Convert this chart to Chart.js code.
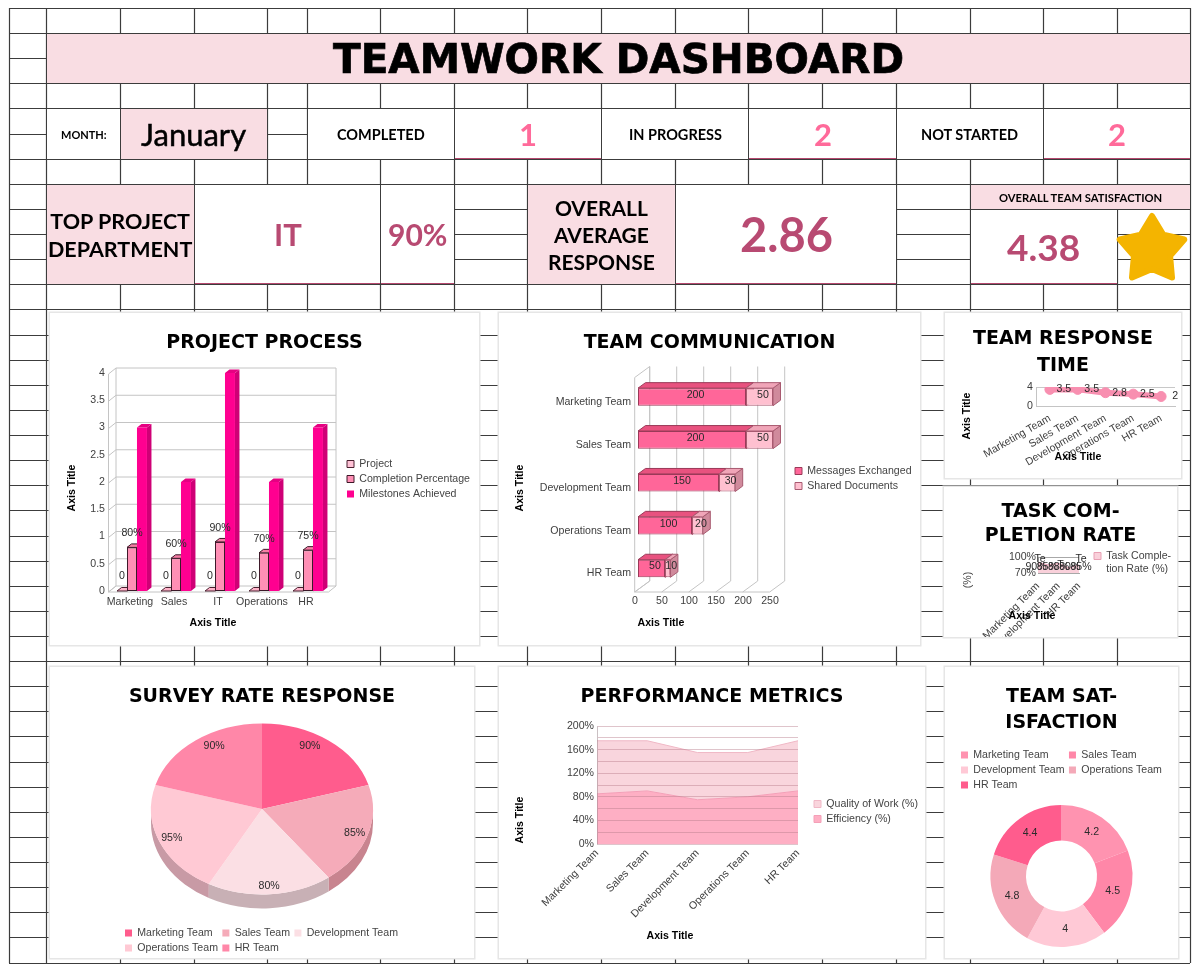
<!DOCTYPE html>
<html>
<head>
<meta charset="utf-8">
<title>Teamwork Dashboard</title>
<script src="https://cdn.jsdelivr.net/npm/chart.js@4/dist/chart.umd.js"></script>
<style>
  html, body { margin: 0; background: #fff; }
  #page { position: relative; width: 1200px; height: 971px; overflow: hidden; }
  #sheet, .star { position: absolute; left: 0; top: 0; }
  .cell {
    position: absolute; box-sizing: border-box; display: flex; align-items: center; justify-content: center;
    text-align: center; background: #fff; font-family: Lato, sans-serif; color: #000; font-weight: 700;
  }
  .cell > span { will-change: transform; }
  .pink { background: #f9dde3; }
  .main { font-family: "DejaVu Sans"; font-size: 40.5px; -webkit-text-stroke: .7px #000; }
  .under { border-bottom: 1.5px solid #b5486e; }
  .num { color: #ff6a9a; font-size: 31px; }
  .big { color: #b84a72; }
  .card { position: absolute; box-sizing: border-box; background: #fff; box-shadow: 0 0 0 1.5px #e6e6e6; }
  .card canvas { position: absolute; left: 0; top: 0; }
</style>
</head>
<body>
<div id="page">
  <canvas id="sheet" width="1200" height="971"></canvas>
</div>
<script>
// header figures
const monthName = 'January'
const completedCount = 1
const inProgressCount = 2
const notStartedCount = 2
const topDepartment = 'IT'
const topDepartmentRate = '90%'
const averageResponse = 2.86
const overallSatisfaction = 4.38

// project process
const departments = ['Marketing', 'Sales', 'IT', 'Operations', 'HR']
const projectFlags = [0, 0, 0, 0, 0]
const completionShare = [0.8, 0.6, 0.9, 0.7, 0.75]
const milestones = [3, 2, 4, 2, 3]

// team series
const teams = ['Marketing Team', 'Sales Team', 'Development Team', 'Operations Team', 'HR Team']
const messages = [200, 200, 150, 100, 50]
const sharedDocs = [50, 50, 30, 20, 10]
const responseTime = [3.5, 3.5, 2.8, 2.5, 2]
const taskCompletion = [90, 85, 88, 80, 85]
const taskStubs = ['Te', '', 'T', '', 'Te']
const surveyRate = [90, 85, 80, 95, 90]
const efficiency = [85, 90, 75, 80, 90]
const quality = [90, 85, 80, 75, 85]
const satisfaction = [4.2, 4.5, 4, 4.8, 4.4]

const pieColors = ['#ff5c8d', '#f5abb9', '#fbdfe4', '#ffc9d4', '#ff87a8']
const pieWalls = ['#c2436a', '#c8848f', '#c8b0b5', '#c89aa5', '#c8688a']
const ringColors = ['#ff93b0', '#ff87a8', '#ffc9d6', '#f4a9b8', '#ff5c8d']

const labelFont = '10.6px "Liberation Sans"'
const axisFont = 'bold 10.6px "Liberation Sans"'

// spreadsheet grid behind everything
const sheetCols = [9, 46, 120, 194, 267, 307, 380, 454, 527, 601, 675, 748, 822, 896, 970, 1043, 1117, 1190]
const sheet = document.getElementById('sheet').getContext('2d')
sheet.strokeStyle = '#3c3c3c'
sheet.lineWidth = 1.2
sheet.beginPath()
for (let i = 0; i <= 38; i++) {
    let y = Math.round(8 + i * 25.12) + 0.5
    sheet.moveTo(9, y)
    sheet.lineTo(1190, y)
}
for (let x of sheetCols) {
    sheet.moveTo(x + 0.5, 8)
    sheet.lineTo(x + 0.5, 963)
}
sheet.stroke()

const page = document.getElementById('page')

function cell(x0, y0, x1, y1, cls, text, size) {
    let d = document.createElement('div')
    d.className = 'cell ' + cls
    d.style.cssText = `left:${x0 + 1}px;top:${y0 + 1}px;width:${x1 - x0 - 1}px;height:${y1 - y0 - 1}px;`
    if (size) d.style.fontSize = size + 'px'
    d.innerHTML = `<span>${text}</span>`
    page.appendChild(d)
}

cell(46, 33, 1190, 83, 'pink main', 'TEAMWORK DASHBOARD')

cell(46, 108, 120, 159, '', 'MONTH:', 11)
cell(120, 108, 267, 159, 'pink', `<span style="font-weight:400;-webkit-text-stroke:.5px #000">${monthName}</span>`, 31)
cell(307, 108, 454, 159, '', 'COMPLETED', 14.5)
cell(454, 108, 601, 159, 'under num', completedCount)
cell(601, 108, 748, 159, '', 'IN PROGRESS', 14.5)
cell(748, 108, 896, 159, 'under num', inProgressCount)
cell(896, 108, 1043, 159, '', 'NOT STARTED', 14.5)
cell(1043, 108, 1190, 159, 'under num', notStartedCount)

cell(46, 184, 194, 284, 'pink', '<div style="line-height:28px">TOP PROJECT<br>DEPARTMENT</div>', 21.5)
cell(194, 184, 380, 284, 'under big', topDepartment, 31)
cell(380, 184, 454, 284, 'under big', topDepartmentRate, 30)
cell(527, 184, 675, 284, 'pink', '<div style="line-height:27px">OVERALL<br>AVERAGE<br>RESPONSE</div>', 21)
cell(675, 184, 896, 284, 'under big', averageResponse, 47)
cell(970, 184, 1190, 209, 'pink', 'OVERALL TEAM SATISFACTION', 11.2)
cell(970, 209, 1117, 284, 'under big', overallSatisfaction, 37)

// star badge next to the satisfaction score
let starPts = []
for (let i = 0; i < 10; i++) {
    let r = i % 2 ? 19 : 34
    let a = -Math.PI / 2 + i * Math.PI / 5
    starPts.push((1152 + r * Math.cos(a)).toFixed(1) + ',' + (250 + r * Math.sin(a)).toFixed(1))
}
page.insertAdjacentHTML('beforeend', `<svg class="star" width="1200" height="971"><polygon points="${starPts.join(' ')}" fill="#f4b400" stroke="#f4b400" stroke-width="6" stroke-linejoin="round"/></svg>`)

// legend placed by hand: it takes no room in the layout, columns wrap after `rows` items
Chart.register({
    id: 'legendPin',
    beforeLayout(chart, args, opts) {
        let lg = chart.legend
        if (!lg || !opts.rows || lg.pinned) return
        lg.pinned = true
        let fit = lg.fit
        lg.fit = function () {
            let p = this.options.labels.padding
            let h = this.options.labels.font.size
            this.maxHeight = opts.rows * (h + p) + p + 0.5
            this.maxWidth = 1000
            fit.call(this)
            this.pinH = this.maxHeight
            this.pinW = this.width
            this.width = 0
            this.height = 0
        }
    },
    afterLayout(chart, args, opts) {
        let lg = chart.legend
        if (!lg || !opts.rows) return
        let p = lg.options.labels.padding
        let h = lg.options.labels.font.size
        lg.left = opts.x - p
        lg.right = lg.left + lg.pinW
        lg.top = opts.y - h / 2 - p
        lg.bottom = lg.top + Math.max(lg.pinH, opts.clipH || 0)
    }
})

// titles stay centred on the whole canvas whatever the right padding is
Chart.register({
    id: 'titleSpan',
    afterLayout(chart) {
        if (!chart.titleBlock) return
        chart.titleBlock.left = 0
        chart.titleBlock.right = chart.width
    }
})

// free standing axis captions
Chart.register({
    id: 'axisNotes',
    afterDraw(chart, args, opts) {
        for (let n of opts.items || []) {
            let ctx = chart.ctx
            ctx.save()
            ctx.translate(n.x, n.y)
            ctx.rotate(n.rot || 0)
            ctx.font = n.font || axisFont
            ctx.fillStyle = n.color || '#000'
            ctx.textAlign = 'center'
            ctx.textBaseline = 'middle'
            ctx.fillText(n.text, 0, 0)
            ctx.restore()
        }
    }
})

function putText(ctx, text, x, y) {
    ctx.font = labelFont
    ctx.fillStyle = '#2b2b2b'
    ctx.textAlign = 'center'
    ctx.textBaseline = 'middle'
    ctx.fillText(text, x, y)
}

function face(ctx, pts, fill, stroke) {
    ctx.beginPath()
    pts.forEach((p, i) => i ? ctx.lineTo(p[0], p[1]) : ctx.moveTo(p[0], p[1]))
    ctx.closePath()
    ctx.fillStyle = fill
    ctx.fill()
    if (stroke) {
        ctx.strokeStyle = stroke
        ctx.lineWidth = 1
        ctx.stroke()
    }
}

// walls and floor of a box chart, plus extruded bar faces, all under the bar fronts
const boxChart = {
    id: 'boxChart',
    beforeDatasetsDraw(chart, args, opts) {
        let ctx = chart.ctx
        let { left: l, right: r, top: t, bottom: b } = chart.chartArea
        let [fx, fy] = opts.front
        let [bx, by] = opts.back
        let seg = (x0, y0, x1, y1) => { ctx.moveTo(x0, y0); ctx.lineTo(x1, y1) }
        ctx.save()
        ctx.strokeStyle = '#c4c4c4'
        ctx.lineWidth = 1
        ctx.beginPath()
        seg(l + fx, t + fy, l + fx, b + fy)
        seg(l + bx, t + by, l + bx, b + by)
        seg(l + fx, b + fy, r + fx, b + fy)
        seg(l + fx, b + fy, l + bx, b + by)
        if (opts.valueAxis == 'y') {
            let sc = chart.scales.y
            seg(r + bx, t + by, r + bx, b + by)
            seg(r + fx, b + fy, r + bx, b + by)
            for (let tick of sc.ticks) {
                let y = sc.getPixelForValue(tick.value)
                seg(l + fx, y + fy, l + bx, y + by)
                seg(l + bx, y + by, r + bx, y + by)
            }
        } else {
            let sc = chart.scales.x
            seg(l + fx, t + fy, l + bx, t + by)
            for (let tick of sc.ticks) {
                let x = sc.getPixelForValue(tick.value)
                seg(x + fx, b + fy, x + bx, b + by)
                seg(x + bx, t + by, x + bx, b + by)
            }
        }
        ctx.stroke()

        let [dx, dy] = opts.depth
        chart.data.datasets.forEach((ds, i) => {
            for (let el of chart.getDatasetMeta(i).data) {
                let stroke = ds.borderWidth ? ds.borderColor : null
                if (opts.valueAxis == 'y') {
                    let x0 = el.x - el.width / 2, x1 = el.x + el.width / 2
                    face(ctx, [[x1, el.y], [x1 + dx, el.y - dy], [x1 + dx, el.base - dy], [x1, el.base]], ds.sideColor, stroke)
                    face(ctx, [[x0, el.y], [x0 + dx, el.y - dy], [x1 + dx, el.y - dy], [x1, el.y]], ds.topColor, stroke)
                } else {
                    let y0 = el.y - el.height / 2, y1 = el.y + el.height / 2
                    face(ctx, [[el.x, y0], [el.x + dx, y0 - dy], [el.x + dx, y1 - dy], [el.x, y1]], ds.sideColor, stroke)
                    face(ctx, [[el.base, y0], [el.base + dx, y0 - dy], [el.x + dx, y0 - dy], [el.x, y0]], ds.topColor, stroke)
                }
            }
        })
        ctx.restore()
    }
}

// builds a card and the shared options; plot and title are given in page pixels
function makeCard(card) {
    let d = document.createElement('div')
    d.className = 'card'
    d.style.cssText = `left:${card.x0}px;top:${card.y0}px;width:${card.x1 - card.x0}px;height:${card.y1 - card.y0}px;`
    let c = document.createElement('canvas')
    c.width = card.x1 - card.x0
    c.height = card.y1 - card.y0
    d.appendChild(c)
    page.appendChild(d)
    return c
}

function titleOpts(card, plot, text, firstY, gap) {
    let top = firstY - card.y0 - gap / 2
    return {
        display: true,
        text: text,
        color: '#000',
        font: { family: 'DejaVu Sans', weight: 'bold', size: 19, lineHeight: gap / 19 },
        padding: { top: top, bottom: plot.y0 - card.y0 - top - text.length * gap }
    }
}

function legendOpts(extra) {
    return Object.assign({
        position: 'right',
        align: 'start',
        labels: { boxWidth: 7, boxHeight: 7, padding: 4.4, color: '#444', font: { size: 10.6 } }
    }, extra)
}

function note(card, text, x, y, rot, font, color) {
    return { text, x: x - card.x0, y: y - card.y0, rot: rot ? -Math.PI / 2 : 0, font, color }
}

Chart.defaults.font.family = '"Liberation Sans"'
Chart.defaults.font.size = 10.6
Chart.defaults.color = '#404040'
Chart.defaults.animation = false
Chart.defaults.responsive = false
Chart.defaults.plugins.tooltip.enabled = false

const tickStyle = { color: '#404040', font: { size: 10.6 } }
const hide = { display: false, drawTicks: false }

// PROJECT PROCESS
{
    let card = { x0: 50, y0: 313, x1: 479, y1: 645 }
    let plot = { x0: 110, y0: 373, x1: 330, y1: 591 }
    new Chart(makeCard(card), {
        type: 'bar',
        data: {
            labels: departments,
            datasets: [
                { label: 'Project', data: projectFlags, backgroundColor: '#ffc2d6', topColor: '#ffb3c9', sideColor: '#d890a8', borderColor: '#4a2030', borderWidth: 1, borderSkipped: false },
                { label: 'Completion Percentage', data: completionShare, backgroundColor: '#ff8fb5', topColor: '#f47ea4', sideColor: '#c9688c', borderColor: '#3c1828', borderWidth: 1, borderSkipped: false },
                { label: 'Milestones Achieved', data: milestones, backgroundColor: '#ff0090', topColor: '#e60082', sideColor: '#cf0076', borderWidth: 0 }
            ]
        },
        options: {
            layout: { padding: { right: card.x1 - plot.x1 } },
            datasets: { bar: { categoryPercentage: 0.68, barPercentage: 1 } },
            scales: {
                x: {
                    afterFit: a => { a.height = card.y1 - plot.y1 },
                    grid: hide, border: hide,
                    ticks: Object.assign({ padding: 5, labelOffset: -2, minRotation: 0, maxRotation: 0, autoSkip: false }, tickStyle)
                },
                y: {
                    min: 0, max: 4,
                    afterFit: a => { a.width = plot.x0 - card.x0 },
                    grid: hide, border: hide,
                    ticks: Object.assign({ stepSize: 0.5, padding: 5, callback: v => v }, tickStyle)
                }
            },
            plugins: {
                title: titleOpts(card, plot, ['PROJECT PROCESS'], 343, 23),
                legend: legendOpts({}),
                legendPin: { x: 347 - card.x0, y: 464 - card.y0, rows: 3 },
                boxChart: { front: [-1.5, 1], back: [6, -5], depth: [4.5, 3.5], valueAxis: 'y' },
                axisNotes: { items: [note(card, 'Axis Title', 213, 623), note(card, 'Axis Title', 72, 488, true)] }
            }
        },
        plugins: [boxChart, {
            id: 'processLabels',
            afterDatasetsDraw(chart) {
                chart.getDatasetMeta(0).data.forEach((el, i) => putText(chart.ctx, projectFlags[i], el.x, el.y - 15))
                chart.getDatasetMeta(1).data.forEach((el, i) => putText(chart.ctx, Math.round(completionShare[i] * 100) + '%', el.x, el.y - 14))
            }
        }]
    })
}

// TEAM COMMUNICATION
{
    let card = { x0: 499, y0: 313, x1: 920, y1: 645 }
    let plot = { x0: 638, y0: 375.5, x1: 773, y1: 590 }
    new Chart(makeCard(card), {
        type: 'bar',
        data: {
            labels: teams,
            datasets: [
                { label: 'Messages Exchanged', data: messages, backgroundColor: '#ff6699', topColor: '#e8527f', sideColor: '#c94a72', borderColor: '#9a3a58', borderWidth: 1, borderSkipped: false },
                { label: 'Shared Documents', data: sharedDocs, backgroundColor: '#ffc0d0', topColor: '#f0a5b8', sideColor: '#d08a9c', borderColor: '#a85a70', borderWidth: 1, borderSkipped: false }
            ]
        },
        options: {
            indexAxis: 'y',
            layout: { padding: { right: card.x1 - plot.x1 } },
            datasets: { bar: { categoryPercentage: 0.41, barPercentage: 1 } },
            scales: {
                x: {
                    stacked: true, min: 0, max: 250,
                    afterFit: a => { a.height = card.y1 - plot.y1 },
                    grid: hide, border: hide,
                    ticks: Object.assign({ stepSize: 50, padding: 5, labelOffset: -3 }, tickStyle)
                },
                y: {
                    stacked: true,
                    afterFit: a => { a.width = plot.x0 - card.x0 },
                    grid: hide, border: hide,
                    ticks: Object.assign({ padding: 7, labelOffset: 5 }, tickStyle)
                }
            },
            plugins: {
                title: titleOpts(card, plot, ['TEAM COMMUNICATION'], 343, 23),
                legend: legendOpts({}),
                legendPin: { x: 795 - card.x0, y: 471 - card.y0, rows: 2 },
                boxChart: { front: [-3.3, 2], back: [11.7, -9], depth: [7.5, 5.5], valueAxis: 'x' },
                axisNotes: { items: [note(card, 'Axis Title', 661, 623), note(card, 'Axis Title', 520.5, 488, true)] }
            }
        },
        plugins: [boxChart, {
            id: 'commLabels',
            afterDatasetsDraw(chart) {
                chart.data.datasets.forEach((ds, d) => {
                    chart.getDatasetMeta(d).data.forEach((el, i) => {
                        putText(chart.ctx, ds.data[i], (el.x + el.base) / 2 + 3.5, el.y - 2)
                    })
                })
            }
        }]
    })
}

// TEAM RESPONSE TIME
{
    let card = { x0: 945, y0: 313, x1: 1181, y1: 478 }
    let plot = { x0: 1036, y0: 387, x1: 1176, y1: 406 }
    new Chart(makeCard(card), {
        type: 'line',
        data: {
            labels: teams,
            datasets: [{
                label: 'Response Time', data: responseTime, borderColor: '#f88fb0', backgroundColor: '#f88fb0',
                borderWidth: 6, pointRadius: 5, pointBorderWidth: 1, tension: 0
            }]
        },
        options: {
            layout: { padding: { right: card.x1 - plot.x1 } },
            scales: {
                x: {
                    offset: true,
                    afterFit: a => { a.height = card.y1 - plot.y1 },
                    grid: hide, border: { color: '#c4c4c4' },
                    ticks: Object.assign({ autoSkip: false, minRotation: 30, maxRotation: 30, padding: 6 }, tickStyle)
                },
                y: {
                    min: 0, max: 4,
                    afterFit: a => { a.width = plot.x0 - card.x0 },
                    grid: { color: '#c8c8c8', drawTicks: false }, border: { color: '#c4c4c4' },
                    ticks: Object.assign({ stepSize: 2, padding: 3, callback: v => v == 2 ? '' : v }, tickStyle)
                }
            },
            plugins: {
                title: titleOpts(card, plot, ['TEAM RESPONSE', 'TIME'], 339, 27),
                legend: hide,
                axisNotes: { items: [note(card, 'Axis Title', 1078, 457), note(card, 'Axis Title', 967, 416, true)] }
            }
        },
        plugins: [{
            id: 'responseLabels',
            afterDatasetsDraw(chart) {
                chart.getDatasetMeta(0).data.forEach((el, i) => putText(chart.ctx, responseTime[i], el.x + 14, el.y))
            }
        }]
    })
}

// TASK COMPLETION RATE
{
    let card = { x0: 944, y0: 487, x1: 1177, y1: 637 }
    let plot = { x0: 1038, y0: 557, x1: 1079, y1: 573 }
    new Chart(makeCard(card), {
        type: 'line',
        data: {
            labels: teams,
            datasets: [{
                label: ['Task Comple-', 'tion Rate (%)'], data: taskCompletion, fill: 'origin',
                backgroundColor: '#f9d0da', borderColor: '#e8a0b4', borderWidth: 1, pointRadius: 0, tension: 0
            }]
        },
        options: {
            layout: { padding: { right: card.x1 - plot.x1 } },
            scales: {
                x: {
                    afterFit: a => { a.height = card.y1 - plot.y1 },
                    grid: hide, border: { color: '#a8a8a8' },
                    ticks: Object.assign({
                        autoSkip: false, minRotation: 45, maxRotation: 45, padding: 7,
                        callback(v, i) { return i % 2 ? '' : this.getLabelForValue(v) }
                    }, tickStyle)
                },
                y: {
                    min: 70, max: 100,
                    afterFit: a => { a.width = plot.x0 - card.x0 },
                    grid: { color: '#a8a8a8', drawTicks: false }, border: { color: '#a8a8a8' },
                    ticks: Object.assign({ stepSize: 30, padding: 2, callback: v => v + '%' }, tickStyle)
                }
            },
            plugins: {
                title: titleOpts(card, plot, ['TASK COM-', 'PLETION RATE'], 512, 24.5),
                legend: legendOpts({}),
                legendPin: { x: 1094 - card.x0, y: 556 - card.y0, rows: 1, clipH: 30 },
                axisNotes: {
                    items: [
                        note(card, 'Axis Title', 1032, 616),
                        note(card, '(%)', 968, 580, true, labelFont, '#444')
                    ]
                }
            }
        },
        plugins: [{
            id: 'taskLabels',
            afterDatasetsDraw(chart) {
                let mid = chart.chartArea.top + 10
                chart.getDatasetMeta(0).data.forEach((el, i) => {
                    putText(chart.ctx, taskCompletion[i] + '%', el.x + (i - 2) * 1, mid)
                    putText(chart.ctx, taskStubs[i], el.x + 2, chart.chartArea.top + (i == 2 ? 8 : 2))
                })
            }
        }]
    })
}

// SURVEY RATE RESPONSE, a tilted pie
{
    let card = { x0: 50, y0: 667, x1: 474, y1: 958 }
    let plot = { x0: 50, y0: 721, x1: 474, y1: 897 }
    let tilt = 0.77
    let wall = 14
    let legendRows = [0, 3, 1, 4, 2]
    new Chart(makeCard(card), {
        type: 'pie',
        data: {
            labels: teams,
            datasets: [{ data: surveyRate, backgroundColor: pieColors, borderWidth: 0, clip: false }]
        },
        options: {
            radius: 111,
            layout: { padding: { bottom: card.y1 - plot.y1 } },
            plugins: {
                title: titleOpts(card, plot, ['SURVEY RATE RESPONSE'], 697, 23),
                legend: legendOpts({
                    labels: Object.assign(legendOpts({}).labels, { sort: (a, b) => legendRows.indexOf(a.index) - legendRows.indexOf(b.index) })
                }),
                legendPin: { x: 125 - card.x0, y: 933 - card.y0, rows: 2 }
            }
        },
        plugins: [{
            id: 'pieTilt',
            beforeDatasetsDraw(chart) {
                let ctx = chart.ctx
                let arcs = chart.getDatasetMeta(0).data
                let { x: cx, y: cy, outerRadius: rx } = arcs[0]
                let ry = rx * tilt
                arcs.forEach((a, i) => {
                    let s = Math.max(a.startAngle, 0)
                    let e = Math.min(a.endAngle, Math.PI)
                    if (s >= e) return
                    ctx.beginPath()
                    ctx.ellipse(cx, cy, rx, ry, 0, s, e)
                    ctx.ellipse(cx, cy + wall, rx, ry, 0, e, s, true)
                    ctx.closePath()
                    ctx.fillStyle = pieWalls[i]
                    ctx.fill()
                })
                ctx.save()
                ctx.translate(cx, cy)
                ctx.scale(1, tilt)
                ctx.translate(-cx, -cy)
            },
            afterDatasetsDraw(chart) {
                let ctx = chart.ctx
                ctx.restore()
                let reach = [0.72, 0.88, 0.9, 0.88, 0.72]
                let lift = [-14, 0, 0, 0, -14]
                chart.getDatasetMeta(0).data.forEach((a, i) => {
                    let mid = (a.startAngle + a.endAngle) / 2
                    let r = a.outerRadius * reach[i]
                    putText(ctx, surveyRate[i] + '%', a.x + r * Math.cos(mid), a.y + r * Math.sin(mid) * tilt + lift[i])
                })
            }
        }]
    })
}

// PERFORMANCE METRICS, stacked areas
{
    let card = { x0: 499, y0: 667, x1: 925, y1: 958 }
    let plot = { x0: 597, y0: 726, x1: 798, y1: 844 }
    new Chart(makeCard(card), {
        type: 'line',
        data: {
            labels: teams,
            datasets: [
                { label: 'Efficiency (%)', data: efficiency, fill: 'origin', backgroundColor: '#feafc4', borderColor: '#f4a0b8', borderWidth: 1, pointRadius: 0, tension: 0 },
                { label: 'Quality of Work (%)', data: quality, fill: '-1', backgroundColor: '#f9d5dd', borderColor: '#f0b8c6', borderWidth: 1, pointRadius: 0, tension: 0 }
            ]
        },
        options: {
            layout: { padding: { right: card.x1 - plot.x1 } },
            scales: {
                x: {
                    afterFit: a => { a.height = card.y1 - plot.y1 },
                    grid: hide, border: hide,
                    ticks: Object.assign({ autoSkip: false, minRotation: 45, maxRotation: 45, padding: 3 }, tickStyle)
                },
                y: {
                    stacked: true, min: 0, max: 200,
                    afterFit: a => { a.width = plot.x0 - card.x0 },
                    grid: { color: 'rgba(185, 125, 140, 0.45)', drawTicks: false, z: 1 },
                    border: { color: 'rgba(150, 130, 135, 0.5)', z: 1 },
                    ticks: Object.assign({ stepSize: 20, autoSkip: false, padding: 3, callback: v => v % 40 == 0 ? v + '%' : '' }, tickStyle)
                }
            },
            plugins: {
                title: titleOpts(card, plot, ['PERFORMANCE METRICS'], 697, 23),
                legend: legendOpts({ reverse: true }),
                legendPin: { x: 814 - card.x0, y: 804 - card.y0, rows: 2 },
                axisNotes: { items: [note(card, 'Axis Title', 670, 936), note(card, 'Axis Title', 520.5, 820, true)] }
            }
        }
    })
}

// TEAM SATISFACTION
{
    let card = { x0: 945, y0: 667, x1: 1178, y1: 958 }
    let plot = { x0: 945, y0: 800, x1: 1178, y1: 952 }
    let legendRows = [0, 2, 4, 1, 3]
    new Chart(makeCard(card), {
        type: 'doughnut',
        data: {
            labels: teams,
            datasets: [{ data: satisfaction, backgroundColor: ringColors, borderWidth: 0, clip: false }]
        },
        options: {
            radius: 71,
            cutout: '50%',
            layout: { padding: { bottom: card.y1 - plot.y1 } },
            plugins: {
                title: titleOpts(card, plot, ['TEAM SAT-', 'ISFACTION'], 697, 26),
                legend: legendOpts({
                    labels: Object.assign(legendOpts({}).labels, { sort: (a, b) => legendRows.indexOf(a.index) - legendRows.indexOf(b.index) })
                }),
                legendPin: { x: 961 - card.x0, y: 755 - card.y0, rows: 3 }
            }
        },
        plugins: [{
            id: 'ringLabels',
            afterDatasetsDraw(chart) {
                chart.getDatasetMeta(0).data.forEach((a, i) => {
                    let p = a.tooltipPosition()
                    putText(chart.ctx, satisfaction[i], p.x, p.y)
                })
            }
        }]
    })
}
</script>
</body>
</html>
